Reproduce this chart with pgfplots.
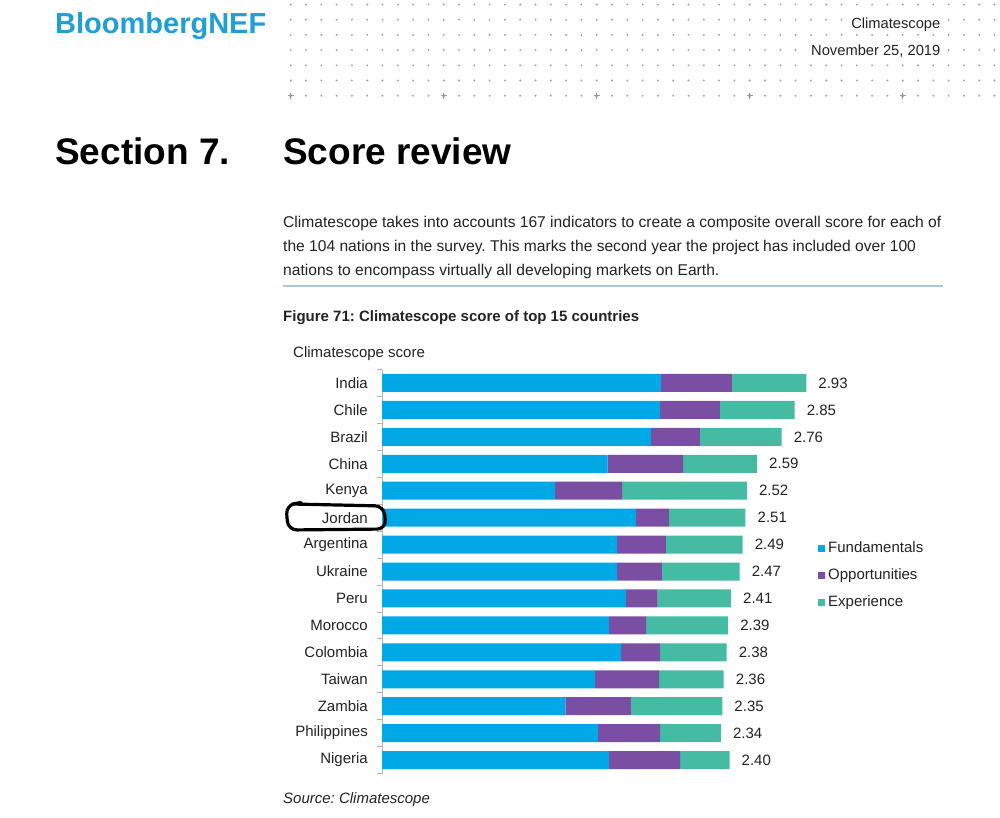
\documentclass[border=0pt]{standalone}
\usepackage{pgfplots}
\pgfplotsset{compat=1.18}
\usepackage{pgfplotstable}
\usepackage{fontspec}
\setmainfont{Liberation Sans}
\frenchspacing
\definecolor{cblue}{RGB}{0,169,230}
\definecolor{cpurple}{RGB}{122,78,163}
\definecolor{cteal}{RGB}{69,187,164}
\definecolor{logo}{RGB}{30,160,215}
\definecolor{txt}{RGB}{35,35,35}
\definecolor{rulec}{RGB}{170,200,215}
\pgfplotstableread{
idx F O E tot lab
0 1.927 0.490 0.513 2.93 2.93
1 1.920 0.414 0.516 2.85 2.85
2 1.858 0.338 0.564 2.76 2.76
3 1.558 0.521 0.511 2.59 2.59
4 1.195 0.463 0.862 2.52 2.52
5 1.754 0.228 0.528 2.51 2.51
6 1.623 0.338 0.529 2.49 2.49
7 1.623 0.309 0.538 2.47 2.47
8 1.685 0.219 0.506 2.41 2.41
9 1.568 0.256 0.566 2.39 2.39
10 1.651 0.269 0.460 2.38 2.38
11 1.471 0.442 0.447 2.36 2.36
12 1.267 0.452 0.631 2.35 2.35
13 1.492 0.428 0.420 2.34 2.34
14 1.568 0.490 0.342 2.40 2.40
}\data
\begin{document}
\begin{tikzpicture}[x=1pt,y=-1pt]
\useasboundingbox (0,0) rectangle (1000,817);
\fill[white] (0,0) rectangle (1000,817);
% header dot grid
\foreach \i in {0,...,46}{
  \foreach \j in {0,...,6}{
    \fill[gray!75] ({290.7+15.3*\i},{4.5+15.2*\j}) circle (1.05pt);
  }
}
\foreach \i in {0,10,20,30,40}{
  \fill[gray!80] ({290.7+15.3*\i},95.7) circle (1.8pt);
  \draw[gray!80,line width=0.8pt] ({290.7+15.3*\i-3},95.7) -- ({290.7+15.3*\i+3},95.7)
    ({290.7+15.3*\i},92.7) -- ({290.7+15.3*\i},98.7);
}
\node[anchor=base west,inner sep=0pt,text=logo,font=\fontsize{29}{34}\selectfont\bfseries] at (55,33) {BloombergNEF};
\node[anchor=base east,inner sep=1.5pt,fill=white,text=txt,font=\fontsize{14.7}{17}\selectfont] at (942,28) {Climatescope};
\node[anchor=base east,inner sep=1.5pt,fill=white,text=txt,font=\fontsize{14.7}{17}\selectfont] at (942,55) {November 25, 2019};
% section title
\node[anchor=base west,inner sep=0pt,text=black,font=\fontsize{37}{44}\selectfont\bfseries] at (55,164) {Section 7.};
\node[anchor=base west,inner sep=0pt,text=black,font=\fontsize{37}{44}\selectfont\bfseries] at (283,164) {Score review};
% paragraph
\begin{scope}[every node/.style={anchor=base west,inner sep=0pt,text=txt,font=\fontsize{15.6}{18}\selectfont}]
\node at (283,227) {Climatescope takes into accounts 167 indicators to create a composite overall score for each of};
\node at (283,251) {the 104 nations in the survey. This marks the second year the project has included over 100};
\node at (283,275) {nations to encompass virtually all developing markets on Earth.};
\end{scope}
\draw[rulec,line width=2pt] (283,285.5) -- (943,285.5);
\node[anchor=base west,inner sep=0pt,text=txt,font=\fontsize{15}{18}\selectfont\bfseries] at (283,321) {Figure 71: Climatescope score of top 15 countries};
\node[anchor=base west,inner sep=0pt,text=txt,font=\fontsize{15}{18}\selectfont] at (293,357) {Climatescope score};
\node[anchor=base west,inner sep=0pt,text=txt,font=\fontsize{15}{18}\selectfont\itshape] at (283,803) {Source: Climatescope};

\begin{axis}[
  at={(382pt,-773.5pt)}, anchor=south west,
  scale only axis, width=434.4pt, height=404pt,
  xbar stacked, bar width=18pt,
  xmin=0, xmax=3, ymin=-0.5, ymax=14.5, y dir=reverse,
  enlargelimits=false, clip=false,
  axis x line=none, axis y line*=left,
  axis line style={black!30, line width=0.8pt},
  xtick=\empty,
  ytick={0,...,14},
  yticklabels={India,Chile,Brazil,China,Kenya,Jordan,Argentina,Ukraine,Peru,Morocco,Colombia,Taiwan,Zambia,Philippines,Nigeria},
  major tick length=0pt,
  minor ytick={-0.5,0.5,...,14.5},
  minor tick length=5pt, tick align=outside,
  minor tick style={black!30, line width=0.8pt},
  yticklabel style={font=\fontsize{15}{18}\selectfont, text=txt, inner sep=0pt, xshift=-14pt},
  legend style={at={(axis description cs:1.0037,0.491)}, anchor=west, draw=none, fill=none,
    font=\fontsize{15}{18}\selectfont, text=txt, row sep=12.5pt, inner sep=0pt,
    nodes={inner sep=1pt}},
  legend cell align=left,
  legend image code/.code={\fill[#1,draw=none] (0pt,-3.5pt) rectangle (7pt,3.5pt);\path (9pt,0pt);},
]
\addplot[fill=cblue, draw=none] table[x=F, y=idx] {\data};
\addplot[fill=cpurple, draw=none] table[x=O, y=idx] {\data};
\addplot[fill=cteal, draw=none] table[x=E, y=idx] {\data};
\legend{Fundamentals,Opportunities,Experience}
\end{axis}
\begin{axis}[
  at={(382pt,-773.5pt)}, anchor=south west,
  scale only axis, width=434.4pt, height=404pt,
  xmin=0, xmax=3, ymin=-0.5, ymax=14.5, y dir=reverse,
  enlargelimits=false, clip=false, hide axis,
]
\addplot[draw=none, mark=none, nodes near coords, point meta=explicit symbolic,
  nodes near coords style={anchor=west, inner sep=0pt, xshift=12pt, font=\fontsize{15}{18}\selectfont, text=txt}]
  table[x=tot, y=idx, meta=lab] {\data};
\end{axis}
% hand-drawn loop around Jordan
\draw[black, line width=3.2pt, rounded corners=9pt, line cap=round] (292,504) -- (384,506) -- (386,529) -- (288,530) -- (286,505) -- (301,502.5);
\end{tikzpicture}
\end{document}
